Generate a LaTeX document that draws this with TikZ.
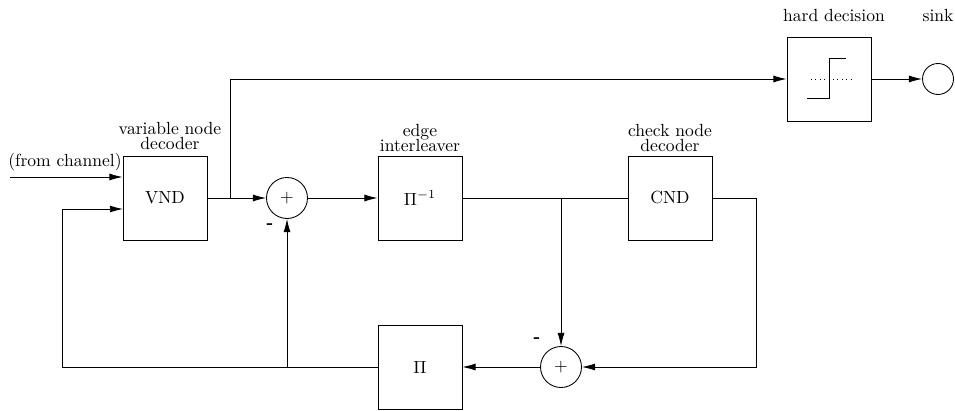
\documentclass[tikz,border=0pt]{standalone}
\usetikzlibrary{math}
\usetikzlibrary{arrows.meta}

\begin{document}
\begin{tikzpicture}[x=0.02cm, y=-0.02cm, line width=0.5pt,
	block/.style={draw, minimum size=1.68cm, inner sep=0pt},
	adder/.style={draw, circle, minimum size=0.82cm, inner sep=0pt},
	caption/.style={align=center, inner sep=1pt},
	>={Latex[length=7.5pt,width=4pt]}]
	% Constants
	\tikzmath{\topy = 79; \midy = 198; \boty = 367;}

	\useasboundingbox (0,0) rectangle (955,411);

	% Blocks
	\node[block] (vnd) at (165,\midy) {VND};
	\node[block] (pinv) at (420,\midy) {$\Pi^{-1}$};
	\node[block] (cnd) at (670,\midy) {CND};
	\node[block] (pi) at (420,\boty) {$\Pi$};
	\node[block] (hd) at (829,\topy) {};
	\node[adder] (plusa) at (287,\midy) {$+$};
	\node[adder] (plusb) at (561,\boty) {$+$};
	\node[draw, circle, minimum size=0.62cm, inner sep=0pt] (sink) at (938,\topy) {};

	% Captions
	\node[caption] (vndcap) at (170,136) {variable node\\[-3.4pt]decoder};
	\node[caption] (pinvcap) at (420,138) {edge\\[-3.4pt]interleaver};
	\node[caption] (cndcap) at (670,138) {check node\\[-3.4pt]decoder};
	\node[caption] (hdcap) at (834,16) {hard decision};
	\node[caption] (sinkcap) at (938,16) {sink};
	\node[caption] (chancap) at (65,162) {(from channel)};
	\node (minusa) at (270,226) {\textbf{-}};
	\node (minusb) at (537,340) {\textbf{-}};

	% Hard decision symbol
	\draw ([shift={(-22,19)}]hd.center) -- ([shift={(0,19)}]hd.center)
		-- ([shift={(0,-21)}]hd.center) -- ([shift={(17,-21)}]hd.center);
	\draw[dotted] ([shift={(-18,0)}]hd.center) -- ([shift={(22,0)}]hd.center);

	% Taps
	\coordinate (chan) at (10,177);
	\coordinate (tapa) at (230,\midy);
	\coordinate (tapb) at (287,\boty);
	\coordinate (fb) at (62,\boty);
	\coordinate (vndin) at (123,209);
	\coordinate (ret) at (756,\midy);

	% Forward path
	\draw[->] (chan) -- (chan -| vnd.west);
	\draw[->] (vnd.east) -- (plusa.west);
	\draw[->] (tapa) |- (hd.west);
	\draw[->] (hd.east) -- (sink.west);
	\draw[->] (plusa.east) -- (pinv.west);
	\draw (pinv.east) -- (cnd.west);
	\draw[->] (plusb |- pinv.east) -- (plusb.north);

	% Feedback path
	\draw[->] (cnd.east) -- (ret) |- (plusb.east);
	\draw[->] (plusb.west) -- (pi.east);
	\draw[->] (pi.west) -- (fb) |- (vndin);
	\draw[->] (tapb) -- (plusa.south);
\end{tikzpicture}
\end{document}
